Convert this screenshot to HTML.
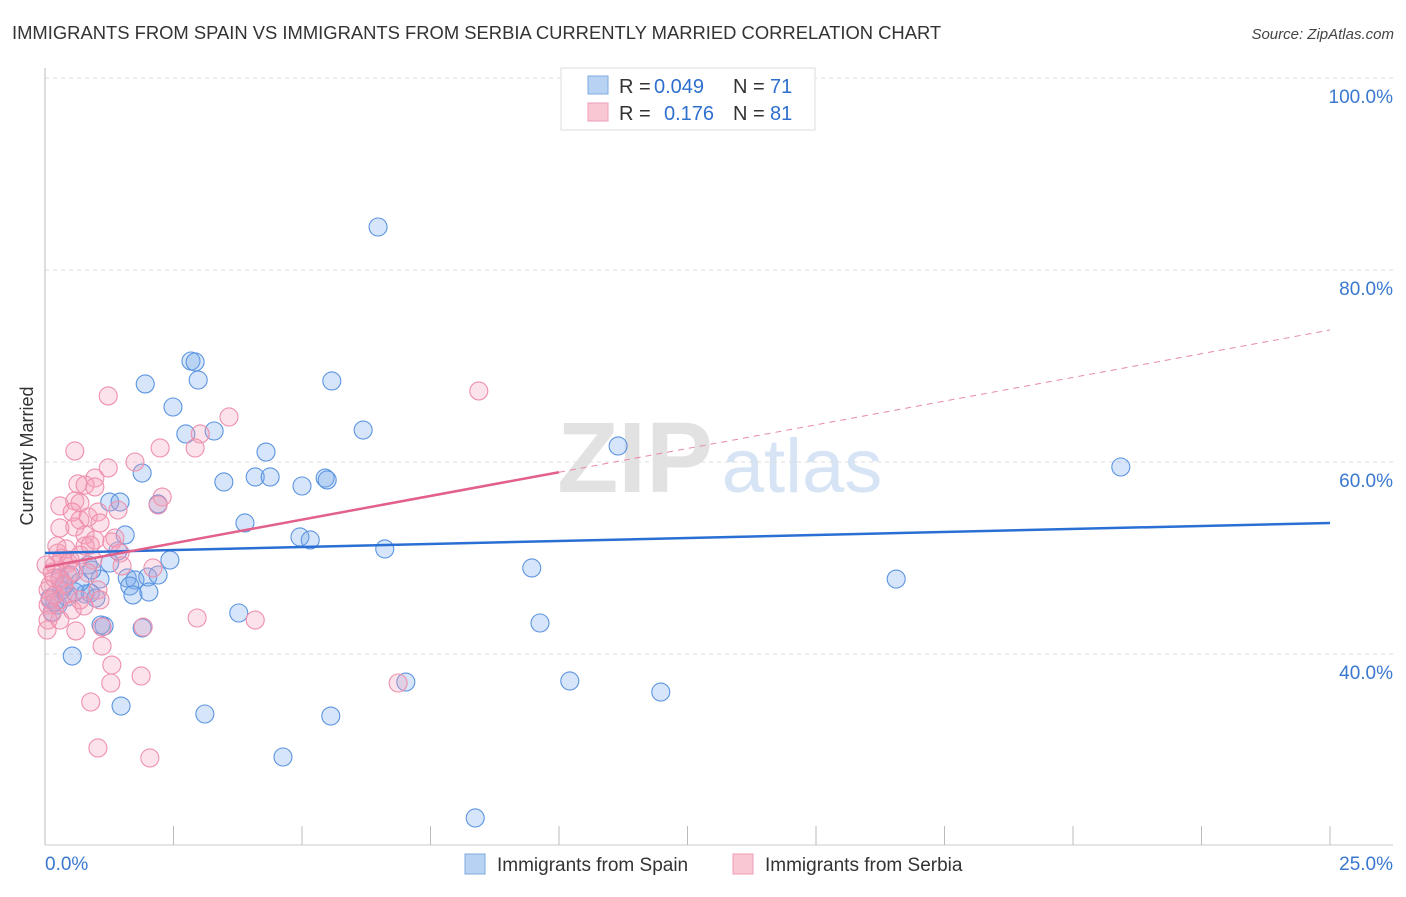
<!DOCTYPE html>
<html><head><meta charset="utf-8"><style>
body{margin:0;background:#fff;font-family:"Liberation Sans",sans-serif;}
svg text{font-family:"Liberation Sans",sans-serif;}
</style></head><body>
<svg id="chart" width="1406" height="892" xmlns="http://www.w3.org/2000/svg">
<text x="12" y="39" font-size="18.4" fill="#333">IMMIGRANTS FROM SPAIN VS IMMIGRANTS FROM SERBIA CURRENTLY MARRIED CORRELATION CHART</text>
<text x="1394" y="39" font-size="15" fill="#444" text-anchor="end" font-style="italic">Source: ZipAtlas.com</text>
<text transform="translate(33,456) rotate(-90)" font-size="18" fill="#333" text-anchor="middle">Currently Married</text>
<g>
<text x="635" y="492" font-size="100" fill="#e2e2e2" font-family="Liberation Serif" text-anchor="middle" font-weight="bold">ZIP</text>
<text x="802" y="492" font-size="76" fill="#d6e4f5" text-anchor="middle">atlas</text>
</g>
<g id="grid"></g>
<g id="axes"></g>
<g id="marks"></g>
<g>
<rect x="561" y="68" width="254" height="62" fill="#fff" stroke="#ddd"/>
<rect x="588" y="76" width="20" height="18" fill="#b8d2f4" stroke="#7fa9e0"/>
<rect x="588" y="103" width="20" height="18" fill="#f9c6d4" stroke="#ee9db4"/>
<text x="619" y="93" font-size="20" fill="#333">R =</text>
<text x="654" y="93" font-size="20" fill="#2f6fce">0.049</text>
<text x="733" y="93" font-size="20" fill="#333">N =</text>
<text x="770" y="93" font-size="20" fill="#2f6fce">71</text>
<text x="619" y="120" font-size="20" fill="#333">R =</text>
<text x="664" y="120" font-size="20" fill="#2f6fce">0.176</text>
<text x="733" y="120" font-size="20" fill="#333">N =</text>
<text x="770" y="120" font-size="20" fill="#2f6fce">81</text>
</g>
<g>
<rect x="465" y="854" width="20" height="20" fill="#b8d2f4" stroke="#7fa9e0"/>
<text x="497" y="871" font-size="19" fill="#333">Immigrants from Spain</text>
<rect x="733" y="854" width="20" height="20" fill="#f9c6d4" stroke="#ee9db4"/>
<text x="765" y="871" font-size="19" fill="#333">Immigrants from Serbia</text>
</g>
</svg>
<script>
const spainX=[6.48,2.84,2.92,2.98,1.95,5.58,2.49,6.19,3.29,2.74,11.15,4.30,20.93,1.89,3.48,4.09,4.38,5.00,5.45,5.49,1.26,1.46,2.20,3.89,1.56,4.96,5.16,6.61,1.42,2.43,1.26,0.84,9.47,1.60,1.75,2.00,2.20,1.07,16.56,0.91,1.65,2.02,1.71,0.78,0.88,0.33,0.58,0.19,0.14,0.29,0.49,3.77,9.63,1.15,1.09,1.89,0.53,7.02,10.21,11.98,1.48,3.11,5.56,4.63,8.37,0.10,0.25,0.68,0.37,0.99,0.43];
const spainY=[84.48,70.52,70.42,68.54,68.13,68.44,65.73,63.33,63.23,62.92,61.67,61.04,59.48,58.85,57.92,58.44,58.44,57.50,58.33,58.13,55.83,55.83,55.63,53.65,52.40,52.19,51.88,50.94,50.73,49.79,49.48,49.27,48.96,47.92,47.71,48.02,48.23,47.81,47.81,48.75,47.08,46.46,46.15,46.25,46.35,46.67,46.46,45.42,44.38,47.92,48.23,44.27,43.23,42.92,43.02,42.71,39.79,37.08,37.19,36.04,34.58,33.75,33.54,29.27,22.92,45.83,45.10,47.50,47.08,45.83,45.94];
const serbiaX=[1.23,8.44,3.58,3.02,2.92,2.24,0.58,1.75,1.23,0.97,0.64,0.78,0.97,0.29,0.58,0.68,2.28,2.20,1.42,0.53,1.03,0.68,0.84,1.07,0.58,0.29,0.78,0.97,1.36,1.30,0.78,0.88,0.23,0.25,0.33,0.49,0.45,1.46,2.10,1.50,0.45,0.29,0.14,0.10,0.06,0.19,0.29,0.45,1.03,0.68,0.06,0.14,0.06,0.04,0.29,0.53,1.07,0.60,2.96,4.09,1.91,1.11,1.11,1.30,1.28,1.87,6.87,0.89,1.03,2.04,0.93,0.68,0.41,0.19,0.56,0.84,0.37,0.18,0.02,0.10,0.76];
const serbiaY=[66.88,67.40,64.69,62.92,61.46,61.46,61.15,60.00,59.38,58.33,57.71,57.60,57.40,55.42,55.94,55.73,56.35,55.52,55.00,54.79,54.79,53.96,54.27,53.65,53.23,53.13,52.40,51.88,52.08,51.67,51.25,51.35,51.25,50.52,50.00,49.79,49.48,50.52,48.96,49.17,48.13,47.71,48.54,47.19,46.67,46.15,45.63,46.25,46.67,45.63,45.10,44.27,43.54,42.50,43.54,44.58,45.63,42.40,43.75,43.54,42.81,42.81,40.83,38.85,36.98,37.71,36.98,35.00,30.21,29.17,49.79,50.31,50.94,49.27,48.54,48.44,47.29,47.92,49.27,45.63,45.00];
const spainTrend=[50.52,53.65];
const serbiaTrend=[49.06,73.75];
const serbiaSolidEnd=10.0;
const yTicks=[100,80,60,40];
const yTickLabels=["100.0%","80.0%","60.0%","40.0%"];
const xTicks=[0,2.5,5,7.5,10,12.5,15,17.5,20,22.5,25];
const NS="http://www.w3.org/2000/svg";
const X0=45,X1=1330;
const xs=v=>X0+(v/25)*(X1-X0);
const ys=v=>1038-v*9.6;
function mk(tag,attrs,parent){const e=document.createElementNS(NS,tag);for(const k in attrs)e.setAttribute(k,attrs[k]);parent.appendChild(e);return e;}
const grid=document.getElementById('grid'),axes=document.getElementById('axes'),marks=document.getElementById('marks');
yTicks.forEach((t,i)=>{
  const l=mk('line',{x1:X0,x2:1393,y1:ys(t),y2:ys(t),stroke:'#ddd','stroke-dasharray':'4,4'},grid);
  
  
  const tx=mk('text',{x:1393,y:ys(t)+25,'font-size':19,fill:'#3a78d0','text-anchor':'end'},axes);
  tx.textContent=yTickLabels[i];
  
  
});
const ax=mk('line',{x1:X0,x2:X0,y1:68,y2:845,stroke:'#bbb'},axes);


const bx=mk('line',{x1:X0,x2:1393,y1:845,y2:845,stroke:'#ccc'},axes);


xTicks.forEach(t=>{
  const l=mk('line',{x1:xs(t),x2:xs(t),y1:826,y2:845,stroke:'#bbb'},axes);
  
  
});
const xl0=mk('text',{x:45,y:870,'font-size':19,fill:'#3a78d0'},axes);xl0.textContent='0.0%';


const xl1=mk('text',{x:1393,y:870,'font-size':19,fill:'#3a78d0','text-anchor':'end'},axes);xl1.textContent='25.0%';


spainX.forEach((v,i)=>{
  const c=mk('circle',{cx:xs(v),cy:ys(spainY[i]),r:9,fill:'rgba(120,170,235,0.3)',stroke:'#5b94e0','stroke-width':1.1},marks);
  
  
});
serbiaX.forEach((v,i)=>{
  const c=mk('circle',{cx:xs(v),cy:ys(serbiaY[i]),r:9,fill:'rgba(245,160,185,0.3)',stroke:'#ee90ad','stroke-width':1.1},marks);
  
  
});
const st=mk('line',{x1:xs(0),y1:ys(spainTrend[0]),x2:xs(25),y2:ys(spainTrend[1]),stroke:'#2a6fd4','stroke-width':2.5},marks);


const sy=v=>serbiaTrend[0]+(serbiaTrend[1]-serbiaTrend[0])*v/25;
const pt=mk('line',{x1:xs(0),y1:ys(sy(0)),x2:xs(serbiaSolidEnd),y2:ys(sy(serbiaSolidEnd)),stroke:'#e2608a','stroke-width':2.5},marks);


const pd=mk('line',{x1:xs(serbiaSolidEnd),y1:ys(sy(serbiaSolidEnd)),x2:xs(25),y2:ys(sy(25)),stroke:'#e88aa6','stroke-width':1,'stroke-dasharray':'6,5'},marks);


</script>
</body></html>
